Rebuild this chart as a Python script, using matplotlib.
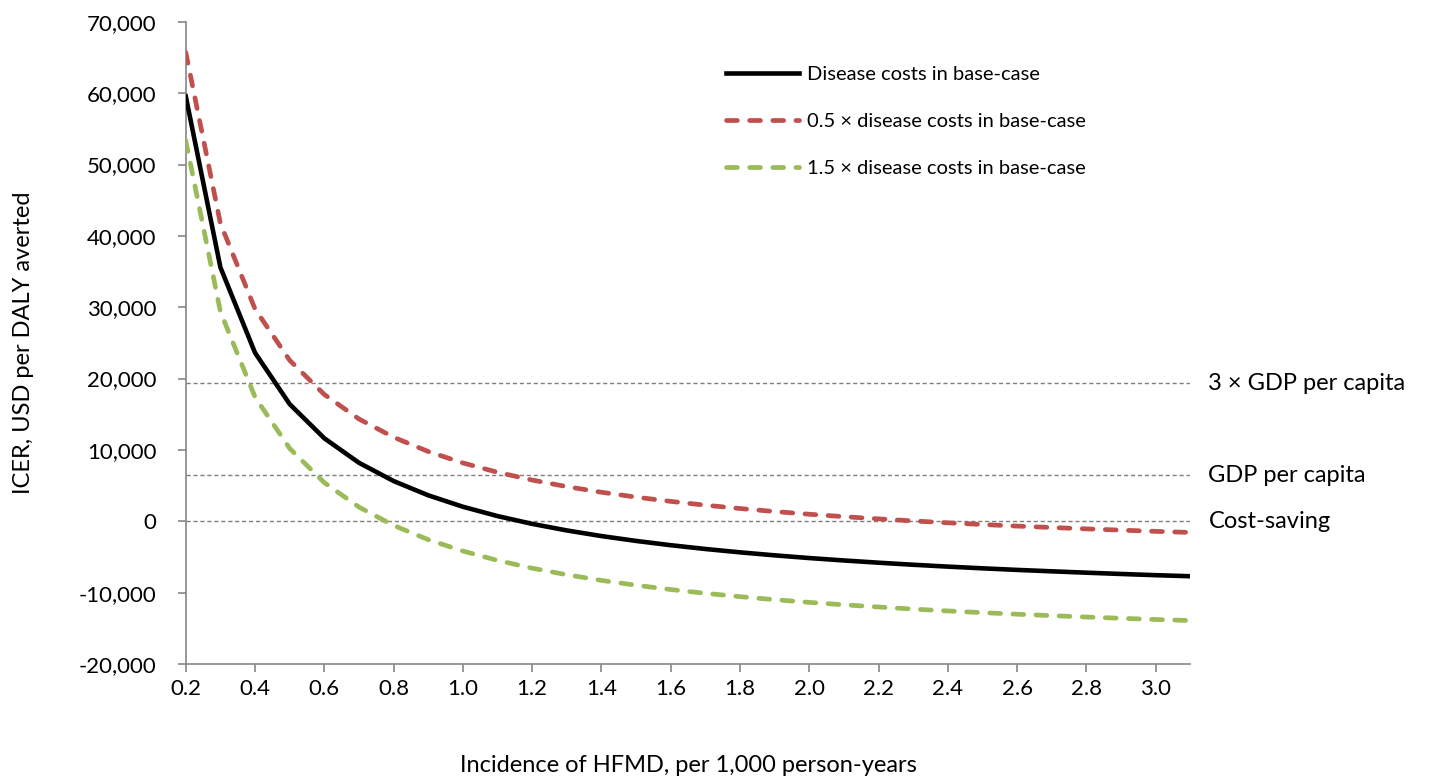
import matplotlib.pyplot as plt
from matplotlib.ticker import FuncFormatter

plt.rcParams['font.family'] = ['Lato', 'DejaVu Sans']

incidencia = [0.2, 0.3, 0.4, 0.5, 0.6, 0.7, 0.8, 0.9, 1.0, 1.1,
              1.2, 1.3, 1.4, 1.5, 1.6, 1.7, 1.8, 1.9, 2.0, 2.1,
              2.2, 2.3, 2.4, 2.5, 2.6, 2.7, 2.8, 2.9, 3.0, 3.1]

icer_base = [59560, 35590, 23610, 16420, 11630, 8200, 5640, 3640, 2040, 730,
             -360, -1280, -2070, -2750, -3350, -3880, -4350, -4770, -5150, -5490,
             -5800, -6090, -6350, -6590, -6810, -7010, -7200, -7380, -7550, -7700]

icer_05 = [65700, 41730, 29750, 22560, 17770, 14340, 11780, 9780, 8180, 6870,
           5780, 4860, 4070, 3390, 2790, 2260, 1790, 1370, 990, 650,
           340, 50, -210, -450, -670, -870, -1060, -1240, -1410, -1560]

icer_15 = [53350, 29380, 17400, 10210, 5420, 1990, -580, -2570, -4170, -5480,
           -6570, -7490, -8280, -8960, -9560, -10090, -10560, -10980, -11360, -11700,
           -12010, -12300, -12560, -12800, -13020, -13220, -13410, -13590, -13760, -13910]

umbrales = [19350, 6450, 0]
rotulos_umbral = ['3 \u00d7 GDP per capita', 'GDP per capita', 'Cost-saving']

gris = '#868686'

fig = plt.figure(figsize=(14.29, 7.78), dpi=100)
ax = fig.add_axes([0.130, 0.1465, 0.703, 0.8255])

for u, r in zip(umbrales, rotulos_umbral):
    ax.axhline(u, color='#7f7f7f', lw=1, ls=(0, (3, 2)), zorder=1)
    ax.text(1.018, u, r, transform=ax.get_yaxis_transform(), va='center',
            ha='left', fontsize=17, clip_on=False)

ax.plot(incidencia, icer_base, color='black', lw=3.3, label='Disease costs in base-case', zorder=3)
ax.plot(incidencia, icer_05, color='#C0504D', lw=3.4, dashes=(2.3, 2.6), dash_capstyle='round',
        label='0.5 \u00d7 disease costs in base-case', zorder=3)
ax.plot(incidencia, icer_15, color='#9BBB59', lw=3.4, dashes=(2.3, 2.6), dash_capstyle='round',
        label='1.5 \u00d7 disease costs in base-case', zorder=3)

ax.set_xlim(0.2, 3.1)
ax.set_ylim(-20000, 70000)
ax.set_xticks([0.2 + 0.2 * i for i in range(15)])
ax.xaxis.set_major_formatter(FuncFormatter(lambda v, p: f'{v:.1f}'))
ax.set_yticks(range(-20000, 70001, 10000))
ax.yaxis.set_major_formatter(FuncFormatter(lambda v, p: f'{v:,.0f}'))

for s in ['top', 'right']:
    ax.spines[s].set_visible(False)
for s in ['left', 'bottom']:
    ax.spines[s].set_color(gris)
    ax.spines[s].set_linewidth(1.2)
ax.tick_params(colors=gris, labelcolor='black', labelsize=16, length=6, width=1.2)
ax.tick_params(axis='y', pad=15)
ax.tick_params(axis='x', pad=5)

ax.set_xlabel('Incidence of HFMD, per 1,000 person-years', fontsize=17, labelpad=40)
ax.set_ylabel('ICER, USD per DALY averted', fontsize=17, labelpad=32)

ax.legend(loc='upper left', bbox_to_anchor=(0.52, 0.96), frameon=False, fontsize=14.5,
          handlelength=3.6, handletextpad=0.4, labelspacing=1.5)

plt.savefig('out.png', dpi=100)
